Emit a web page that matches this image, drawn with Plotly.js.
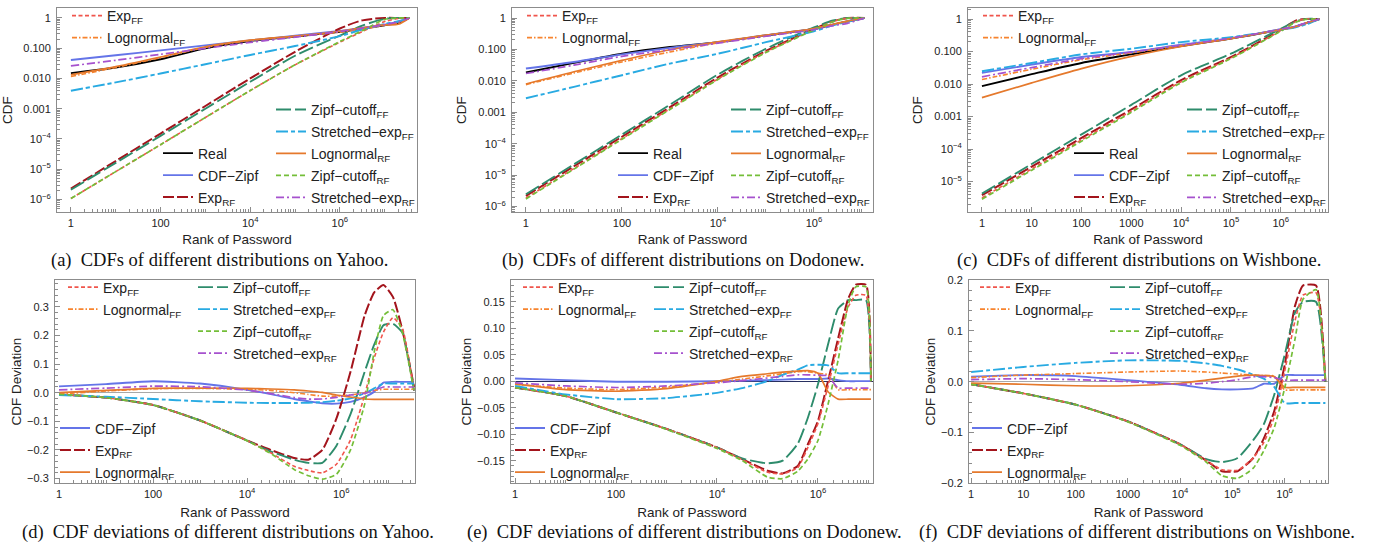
<!DOCTYPE html>
<html><head><meta charset="utf-8">
<script src="https://cdn.plot.ly/plotly-3.0.1.min.js"></script>
<style>html,body{margin:0;padding:0;background:#fff}#chart{width:1380px;height:543px}</style>
</head><body><div id="chart"></div>
<script>
// ================= DATA =================
// series labels
const labels = {
  real: 'Real', zipf: 'CDF−Zipf', expRF: 'Exp<sub>RF</sub>', expFF: 'Exp<sub>FF</sub>',
  lnFF: 'Lognormal<sub>FF</sub>', lnRF: 'Lognormal<sub>RF</sub>',
  zcFF: 'Zipf−cutoff<sub>FF</sub>', zcRF: 'Zipf−cutoff<sub>RF</sub>',
  seFF: 'Stretched−exp<sub>FF</sub>', seRF: 'Stretched−exp<sub>RF</sub>'
};

// ---- (a) CDFs on Yahoo ----
const rankYahooCdf = [1, 10, 100, 1e3, 1e4, 1e5, 1e6, 3.16e6, 1e7, 2.0e7, 3.55e7];
const aReal  = [0.0150, 0.0230, 0.0431, 0.0989, 0.172, 0.244, 0.348, 0.447, 0.575, 0.686, 1];
const aZipf  = [0.0409, 0.0582, 0.0849, 0.124, 0.181, 0.257, 0.375, 0.470, 0.604, 0.740, 1];
const aExpRF = [2.29e-6, 1.86e-5, 1.51e-4, 1.23e-3, 0.0100, 0.0759, 0.447, 0.832, 1, 1, 1];
const aZcFF  = [2.09e-6, 1.62e-5, 1.26e-4, 1.00e-3, 7.76e-3, 0.0562, 0.263, 0.562, 0.933, 1, 1];
const aExpFF = [1.07e-6, 8.32e-6, 6.46e-5, 5.13e-4, 3.98e-3, 0.0282, 0.158, 0.355, 0.759, 0.955, 1];
const aLnFF  = [0.0116, 0.0230, 0.0489, 0.106, 0.181, 0.244, 0.339, 0.425, 0.575, 0.686, 1];
const aSeFF  = [0.00394, 0.00740, 0.0146, 0.0295, 0.0597, 0.118, 0.251, 0.414, 0.635, 0.778, 1];
const aLnRF  = [0.0132, 0.0247, 0.0513, 0.112, 0.185, 0.251, 0.363, 0.468, 0.589, 0.617, 1];
const aZcRF  = [1.07e-6, 8.32e-6, 6.46e-5, 5.13e-4, 3.98e-3, 0.0282, 0.166, 0.380, 0.891, 1, 1];
const aSeRF  = [0.0260, 0.0399, 0.0628, 0.0989, 0.155, 0.232, 0.357, 0.458, 0.604, 0.740, 1];

// ---- (b) CDFs on Dodonew ----
const rankDodoCdf = [1, 10, 100, 1e3, 1e4, 1e5, 1e6, 2.51e6, 5.01e6, 1.12e7];
const bReal  = [0.0184, 0.0372, 0.0731, 0.119, 0.170, 0.277, 0.450, 0.617, 0.785, 1];
const bZipf  = [0.0246, 0.0398, 0.0697, 0.112, 0.170, 0.282, 0.457, 0.617, 0.785, 1];
const bExpRF = [2.19e-6, 1.91e-5, 1.66e-4, 1.45e-3, 0.0129, 0.0891, 0.447, 0.794, 1, 1];
const bZcFF  = [2.45e-6, 2.19e-5, 1.95e-4, 1.74e-3, 0.0159, 0.105, 0.501, 0.832, 1, 1];
const bExpFF = [1.86e-6, 1.62e-5, 1.45e-4, 1.29e-3, 0.0115, 0.0832, 0.427, 0.776, 0.977, 1];
const bLnFF  = [0.00759, 0.0178, 0.0398, 0.0832, 0.162, 0.275, 0.447, 0.617, 0.776, 1];
const bSeFF  = [0.00279, 0.00646, 0.0151, 0.0355, 0.0731, 0.170, 0.380, 0.589, 0.759, 1];
const bLnRF  = [0.00794, 0.0195, 0.0447, 0.0977, 0.174, 0.285, 0.457, 0.631, 0.794, 1];
const bZcRF  = [1.74e-6, 1.55e-5, 1.38e-4, 1.23e-3, 0.0110, 0.0794, 0.417, 0.759, 0.977, 1];
const bSeRF  = [0.0171, 0.0316, 0.0603, 0.0977, 0.159, 0.263, 0.427, 0.575, 0.676, 1];

// ---- (c) CDFs on Wishbone ----
const rankWishCdf = [1, 10, 100, 1e3, 1e4, 1e5, 1e6, 2.0e6, 3.16e6, 6.03e6];
const cReal  = [0.00865, 0.0201, 0.0445, 0.0818, 0.147, 0.251, 0.473, 0.583, 0.738, 1];
const cZipf  = [0.0220, 0.0396, 0.0678, 0.0964, 0.161, 0.258, 0.484, 0.597, 0.738, 1];
const cExpRF = [3.80e-6, 2.88e-5, 2.19e-4, 1.66e-3, 0.0132, 0.0676, 0.462, 0.891, 1, 1];
const cZcFF  = [4.27e-6, 3.47e-5, 2.82e-4, 2.29e-3, 0.0186, 0.0857, 0.501, 0.832, 1, 1];
const cExpFF = [3.16e-6, 2.45e-5, 1.91e-4, 1.48e-3, 0.0118, 0.0631, 0.437, 0.832, 1, 1];
const cLnFF  = [0.0138, 0.0285, 0.0562, 0.0918, 0.154, 0.251, 0.473, 0.583, 0.738, 1];
const cSeFF  = [0.0248, 0.0445, 0.0818, 0.122, 0.195, 0.276, 0.462, 0.557, 0.671, 1];
const cLnRF  = [0.00381, 0.0109, 0.0299, 0.0711, 0.143, 0.251, 0.473, 0.583, 0.738, 1];
const cZcRF  = [2.88e-6, 2.24e-5, 1.74e-4, 1.35e-3, 0.0110, 0.0603, 0.421, 0.794, 0.977, 1];
const cSeRF  = [0.0167, 0.0321, 0.0603, 0.0964, 0.157, 0.258, 0.484, 0.597, 0.755, 1];

// ---- (d) CDF deviations on Yahoo ----
const rankYahooDev = [1, 10, 100, 1e3, 1e4, 3.16e4, 1e5, 2.0e5, 3.98e5, 7.94e5, 1.58e6, 3.16e6, 5.01e6, 7.94e6, 1.26e7, 2.0e7, 3.55e7];
const dZipf  = [0.022, 0.030, 0.040, 0.032, 0.010, -0.005, -0.022, -0.030, -0.037, -0.038, -0.032, -0.015, 0.003, 0.035, 0.038, 0.038, 0.038];
const dExpRF = [-0.006, -0.017, -0.043, -0.097, -0.167, -0.200, -0.228, -0.234, -0.200, -0.090, 0.073, 0.270, 0.350, 0.376, 0.335, 0.220, 0.020];
const dZcFF  = [-0.006, -0.017, -0.043, -0.097, -0.167, -0.205, -0.234, -0.245, -0.245, -0.185, -0.075, 0.073, 0.167, 0.236, 0.241, 0.210, 0.005];
const dExpFF = [-0.006, -0.017, -0.043, -0.097, -0.167, -0.210, -0.257, -0.272, -0.280, -0.250, -0.165, -0.008, 0.120, 0.212, 0.262, 0.225, 0.005];
const dLnFF  = [-0.005, 0.006, 0.014, 0.015, 0.012, 0.008, 0.000, -0.006, -0.012, -0.012, -0.008, 0.000, 0.008, 0.012, 0.012, 0.012, 0.012];
const dSeFF  = [-0.008, -0.014, -0.022, -0.030, -0.035, -0.036, -0.036, -0.035, -0.033, -0.028, -0.020, -0.002, 0.015, 0.032, 0.032, 0.032, 0.032];
const dLnRF  = [0.000, 0.008, 0.015, 0.016, 0.015, 0.013, 0.010, 0.006, 0.001, -0.008, -0.015, -0.022, -0.023, -0.023, -0.023, -0.023, -0.023];
const dZcRF  = [-0.006, -0.017, -0.043, -0.097, -0.168, -0.212, -0.268, -0.290, -0.302, -0.285, -0.200, -0.040, 0.140, 0.270, 0.290, 0.210, 0.005];
const dSeRF  = [0.010, 0.016, 0.023, 0.021, 0.009, -0.003, -0.017, -0.022, -0.022, -0.016, -0.008, -0.002, 0.008, 0.020, 0.020, 0.020, 0.020];

// ---- (e) CDF deviations on Dodonew ----
const rankDodoDev = [1, 10, 100, 1e3, 1e4, 3.16e4, 1e5, 2.0e5, 3.98e5, 6.31e5, 1e6, 1.58e6, 2.51e6, 3.98e6, 5.62e6, 8.91e6, 1.12e7];
const eZipf  = [0.005, 0.002, -0.001, -0.001, 0.000, 0.001, 0.002, 0.003, 0.004, 0.004, 0.004, 0.005, 0.002, 0.000, 0.000, 0.000, 0.000];
const eExpRF = [-0.012, -0.028, -0.059, -0.090, -0.125, -0.147, -0.169, -0.174, -0.160, -0.119, -0.075, 0.000, 0.081, 0.156, 0.182, 0.182, 0.000];
const eZcFF  = [-0.012, -0.028, -0.059, -0.090, -0.125, -0.146, -0.155, -0.150, -0.118, -0.069, -0.006, 0.069, 0.137, 0.153, 0.153, 0.153, 0.000];
const eExpFF = [-0.012, -0.028, -0.059, -0.090, -0.125, -0.148, -0.172, -0.175, -0.163, -0.125, -0.080, -0.010, 0.070, 0.140, 0.162, 0.162, 0.000];
const eLnFF  = [-0.006, -0.013, -0.016, -0.011, -0.002, 0.004, 0.010, 0.014, 0.018, 0.018, 0.015, 0.012, -0.016, -0.016, -0.016, -0.016, -0.016];
const eSeFF  = [-0.009, -0.025, -0.034, -0.032, -0.022, -0.013, 0.000, 0.012, 0.022, 0.030, 0.031, 0.030, 0.015, 0.015, 0.015, 0.015, 0.015];
const eLnRF  = [-0.005, -0.016, -0.019, -0.014, 0.000, 0.009, 0.014, 0.017, 0.019, 0.020, 0.015, -0.020, -0.034, -0.034, -0.034, -0.034, -0.034];
const eZcRF  = [-0.012, -0.028, -0.059, -0.091, -0.127, -0.150, -0.181, -0.184, -0.170, -0.147, -0.112, -0.044, 0.040, 0.145, 0.178, 0.178, 0.000];
const eSeRF  = [-0.003, -0.009, -0.012, -0.009, -0.003, 0.001, 0.006, 0.009, 0.012, 0.012, 0.011, 0.010, -0.013, -0.013, -0.013, -0.013, -0.013];

// ---- (f) CDF deviations on Wishbone ----
const rankWishDev = [1, 10, 100, 1e3, 1e4, 3.16e4, 6.31e4, 1.26e5, 2.51e5, 3.98e5, 6.31e5, 1e6, 1.58e6, 2.24e6, 3.98e6, 6.03e6];
const fZipf  = [0.010, 0.013, 0.011, 0.003, -0.006, -0.013, -0.015, -0.015, -0.013, -0.004, -0.004, 0.013, 0.013, 0.013, 0.013, 0.013];
const fExpRF = [-0.005, -0.023, -0.045, -0.078, -0.123, -0.155, -0.176, -0.176, -0.150, -0.112, -0.058, 0.032, 0.149, 0.189, 0.189, 0.000];
const fZcFF  = [-0.005, -0.023, -0.045, -0.078, -0.123, -0.152, -0.158, -0.150, -0.115, -0.084, -0.026, 0.052, 0.136, 0.157, 0.157, 0.000];
const fExpFF = [-0.005, -0.023, -0.045, -0.078, -0.123, -0.155, -0.173, -0.174, -0.150, -0.120, -0.070, 0.020, 0.120, 0.170, 0.175, 0.000];
const fLnFF  = [0.008, 0.013, 0.016, 0.019, 0.021, 0.019, 0.017, 0.015, 0.013, 0.012, 0.011, -0.016, -0.016, -0.016, -0.016, -0.016];
const fSeFF  = [0.019, 0.029, 0.037, 0.042, 0.041, 0.036, 0.031, 0.024, 0.014, 0.006, -0.010, -0.042, -0.042, -0.042, -0.042, -0.042];
const fLnRF  = [-0.003, -0.005, -0.008, -0.008, -0.003, 0.003, 0.007, 0.011, 0.013, 0.012, 0.010, -0.011, -0.011, -0.011, -0.011, -0.011];
const fZcRF  = [-0.005, -0.023, -0.045, -0.079, -0.125, -0.158, -0.185, -0.190, -0.170, -0.136, -0.091, -0.013, 0.084, 0.162, 0.181, 0.000];
const fSeRF  = [0.004, 0.006, 0.004, 0.000, -0.005, -0.003, 0.000, 0.004, 0.010, 0.010, 0.008, 0.003, 0.003, 0.003, 0.003, 0.003];

// ---- tick labels ----
const xTickVals2 = [1, 100, 1e4, 1e6];
const xTickText2 = ['1', '100', '10<sup>4</sup>', '10<sup>6</sup>'];
const xTickVals1 = [1, 10, 100, 1000, 1e4, 1e5, 1e6];
const xTickText1 = ['1', '10', '100', '1000', '10<sup>4</sup>', '10<sup>5</sup>', '10<sup>6</sup>'];
const yCdfTickVals6 = [1, 0.1, 0.01, 0.001, 1e-4, 1e-5, 1e-6];
const yCdfTickText6 = ['1', '0.100', '0.010', '0.001', '10<sup>−4</sup>', '10<sup>−5</sup>', '10<sup>−6</sup>'];
const yCdfTickVals5 = [1, 0.1, 0.01, 0.001, 1e-4, 1e-5];
const yCdfTickText5 = ['1', '0.100', '0.010', '0.001', '10<sup>−4</sup>', '10<sup>−5</sup>'];

const captions = [
  '(a)&nbsp; CDFs of different distributions on Yahoo.',
  '(b)&nbsp; CDFs of different distributions on Dodonew.',
  '(c)&nbsp; CDFs of different distributions on Wishbone.',
  '(d)&nbsp; CDF deviations of different distributions on Yahoo.',
  '(e)&nbsp; CDF deviations of different distributions on Dodonew.',
  '(f)&nbsp; CDF deviations of different distributions on Wishbone.'
];

// ================= STYLE / LAYOUT =================
const W = 1380, H = 543;
const px = v => v / W, py = v => 1 - v / H;
const SANS = 'Liberation Sans, Arial, sans-serif';
const SERIF = 'Liberation Serif, Times New Roman, serif';
const FRAME = '#8c8c8c';

const styles = {
  real:  {color: '#000000', width: 1.9},
  zipf:  {color: '#6474E8', width: 1.9},
  expRF: {color: '#A3141C', width: 2.0, dash: '11px,3px'},
  expFF: {color: '#F0554C', width: 1.6, dash: '4px,2.5px'},
  lnFF:  {color: '#F7842E', width: 1.6, dash: '5px,2px,1.5px,2px'},
  zcFF:  {color: '#2E8C6C', width: 1.9, dash: '15px,4px'},
  seFF:  {color: '#28AAE2', width: 1.9, dash: '12px,3px,4px,3px'},
  lnRF:  {color: '#E5792C', width: 1.7},
  zcRF:  {color: '#74BE38', width: 1.7, dash: '5px,3px'},
  seRF:  {color: '#A652CE', width: 1.7, dash: '8px,3px,2px,3px'}
};

const panels = [
  {box: [57, 417, 4, 210], xr: [-0.31, 7.72], yr: [-6.43, 0.33], cdf: true, rank: rankYahooCdf,
   series: [['real', aReal, 2], ['zipf', aZipf, 2], ['expRF', aExpRF, 2], ['zcFF', aZcFF, 3], ['expFF', aExpFF, 1],
            ['lnFF', aLnFF, 1], ['seFF', aSeFF, 3], ['lnRF', aLnRF, 3], ['zcRF', aZcRF, 3], ['seRF', aSeRF, 3]],
   legends: [[107, 13], [198, 152], [311, 108]], xt: [xTickVals2, xTickText2], yt: [yCdfTickVals6, yCdfTickText6],
   cap: [219, 258]},
  {box: [512, 873, 4, 210], xr: [-0.29, 7.23], yr: [-6.19, 0.32], cdf: true, rank: rankDodoCdf,
   series: [['real', bReal, 2], ['zipf', bZipf, 2], ['expRF', bExpRF, 2], ['zcFF', bZcFF, 3], ['expFF', bExpFF, 1],
            ['lnFF', bLnFF, 1], ['seFF', bSeFF, 3], ['lnRF', bLnRF, 3], ['zcRF', bZcRF, 3], ['seRF', bSeRF, 3]],
   legends: [[562, 13], [653, 152], [766, 108]], xt: [xTickVals2, xTickText2], yt: [yCdfTickVals6, yCdfTickText6],
   cap: [683, 258]},
  {box: [968, 1328, 4, 210], xr: [-0.28, 6.95], yr: [-5.95, 0.34], cdf: true, rank: rankWishCdf,
   series: [['real', cReal, 2], ['zipf', cZipf, 2], ['expRF', cExpRF, 2], ['zcFF', cZcFF, 3], ['expFF', cExpFF, 1],
            ['lnFF', cLnFF, 1], ['seFF', cSeFF, 3], ['lnRF', cLnRF, 3], ['zcRF', cZcRF, 3], ['seRF', cSeRF, 3]],
   legends: [[1018, 13], [1109, 152], [1222, 108]], xt: [xTickVals1, xTickText1], yt: [yCdfTickVals5, yCdfTickText5],
   cap: [1139, 258]},
  {box: [55, 415, 278, 483], xr: [-0.085, 7.57], yr: [-0.317, 0.394], cdf: false, rank: rankYahooDev,
   series: [['zipf', dZipf, 3], ['expRF', dExpRF, 3], ['zcFF', dZcFF, 2], ['expFF', dExpFF, 1], ['lnFF', dLnFF, 1],
            ['seFF', dSeFF, 2], ['lnRF', dLnRF, 3], ['zcRF', dZcRF, 2], ['seRF', dSeRF, 2]],
   legends: [[103, 287], [233, 287], [95, 429]], xt: [xTickVals2, xTickText2], dtick: 0.1, minor: 0.02, fmt: '.1f',
   zc: '#a8a8a8', cap: [228, 532]},
  {box: [511, 873, 278, 483], xr: [-0.08, 7.09], yr: [-0.193, 0.191], cdf: false, rank: rankDodoDev,
   series: [['zipf', eZipf, 3], ['expRF', eExpRF, 3], ['zcFF', eZcFF, 2], ['expFF', eExpFF, 1], ['lnFF', eLnFF, 1],
            ['seFF', eSeFF, 2], ['lnRF', eLnRF, 3], ['zcRF', eZcRF, 2], ['seRF', eSeRF, 2]],
   legends: [[558, 287], [689, 287], [550, 429]], xt: [xTickVals2, xTickText2], dtick: 0.05, minor: 0.01, fmt: '.2f',
   zc: '#283060', cap: [684, 532]},
  {box: [969, 1328, 278, 483], xr: [-0.04, 6.83], yr: [-0.2, 0.2], cdf: false, rank: rankWishDev,
   series: [['zipf', fZipf, 3], ['expRF', fExpRF, 3], ['zcFF', fZcFF, 2], ['expFF', fExpFF, 1], ['lnFF', fLnFF, 1],
            ['seFF', fSeFF, 2], ['lnRF', fLnRF, 3], ['zcRF', fZcRF, 2], ['seRF', fSeRF, 2]],
   legends: [[1015, 287], [1145, 287], [1007, 429]], xt: [xTickVals1, xTickText1], dtick: 0.1, minor: 0.02, fmt: '.1f',
   zc: '#a8a8a8', cap: [1137, 532]}
];

function logMinor(lo, hi, major) {
  const out = [];
  for (let e = lo; e <= hi; e++) for (let k = 1; k < 10; k++) {
    const v = +(k * Math.pow(10, e)).toPrecision(6);
    if (!major.some(m => Math.abs(m - v) < v * 1e-6)) out.push(v);
  }
  return out;
}

const traces = [];
const layout = {
  width: W, height: H, margin: {l: 0, r: 0, t: 0, b: 0},
  paper_bgcolor: '#ffffff', plot_bgcolor: '#ffffff', hovermode: false, showlegend: true,
  font: {family: SANS, size: 12, color: '#222'}, annotations: []
};

panels.forEach((p, i) => {
  const n = i + 1;
  const xa = n === 1 ? 'x' : 'x' + n, ya = n === 1 ? 'y' : 'y' + n;
  const xKey = n === 1 ? 'xaxis' : 'xaxis' + n, yKey = n === 1 ? 'yaxis' : 'yaxis' + n;
  const base = {
    showline: true, mirror: true, linecolor: FRAME, linewidth: 1, ticks: 'inside', ticklen: 5,
    tickwidth: 1, tickcolor: FRAME, showgrid: false, zeroline: false, automargin: false, fixedrange: true,
    tickfont: {family: SANS, size: 11, color: '#222'}
  };
  layout[xKey] = Object.assign({}, base, {
    type: 'log', range: p.xr, domain: [px(p.box[0]), px(p.box[1])], anchor: ya,
    tickmode: 'array', tickvals: p.xt[0], ticktext: p.xt[1],
    minor: {tickmode: 'array', tickvals: logMinor(0, 7, p.xt[0]), ticks: 'inside', ticklen: 3, tickcolor: FRAME},
    title: {text: 'Rank of Password', font: {family: SANS, size: 13.5, color: '#222'}, standoff: p.cdf ? 6 : 8}
  });
  const yBase = Object.assign({}, base, {
    domain: [py(p.box[3]), py(p.box[2])], anchor: xa, ticklabelstandoff: 3,
    title: {text: p.cdf ? 'CDF' : 'CDF Deviation', font: {family: SANS, size: 13.5, color: '#222'}, standoff: p.cdf ? 8 : 2}
  });
  if (p.cdf) {
    layout[yKey] = Object.assign(yBase, {
      type: 'log', range: p.yr, tickmode: 'array', tickvals: p.yt[0], ticktext: p.yt[1],
      minor: {tickmode: 'array', tickvals: logMinor(-7, 0, p.yt[0]), ticks: 'inside', ticklen: 3, tickcolor: FRAME}
    });
  } else {
    layout[yKey] = Object.assign(yBase, {
      type: 'linear', range: p.yr, tick0: 0, dtick: p.dtick, tickformat: p.fmt,
      zeroline: true, zerolinecolor: p.zc, zerolinewidth: 1,
      minor: {tick0: 0, dtick: p.minor, ticks: 'inside', ticklen: 3, tickcolor: FRAME}
    });
  }
  // legends
  p.legends.forEach((lg, g) => {
    const ln = i * 3 + g + 1;
    const key = ln === 1 ? 'legend' : 'legend' + ln;
    layout[key] = {
      x: px(lg[0] - 40), y: py(lg[1] - 17.5), xanchor: 'left', yanchor: 'top',
      bgcolor: 'rgba(255,255,255,0)', borderwidth: 0, itemwidth: 30,
      font: {family: SANS, size: 14, color: '#222'}, traceorder: 'grouped', tracegroupgap: 0.8,
      itemclick: false, itemdoubleclick: false
    };
  });
  // traces
  p.series.forEach(([key, vals, g]) => {
    const ln = i * 3 + g;
    traces.push({
      type: 'scatter', mode: 'lines', x: p.rank, y: vals, xaxis: xa, yaxis: ya,
      name: labels[key], legend: ln === 1 ? 'legend' : 'legend' + ln, legendgroup: 'p' + n + key,
      line: Object.assign({shape: 'spline', smoothing: p.cdf ? 0.8 : 0.5}, styles[key]),
      hoverinfo: 'skip'
    });
  });
  // caption
  layout.annotations.push({
    xref: 'paper', yref: 'paper', x: px(p.cap[0]), y: py(p.cap[1]), xanchor: 'center', yanchor: 'middle',
    text: captions[i], showarrow: false, font: {family: SERIF, size: 18.5, color: '#111'}
  });
});

Plotly.newPlot('chart', traces, layout, {displayModeBar: false});
</script>
</body></html>
